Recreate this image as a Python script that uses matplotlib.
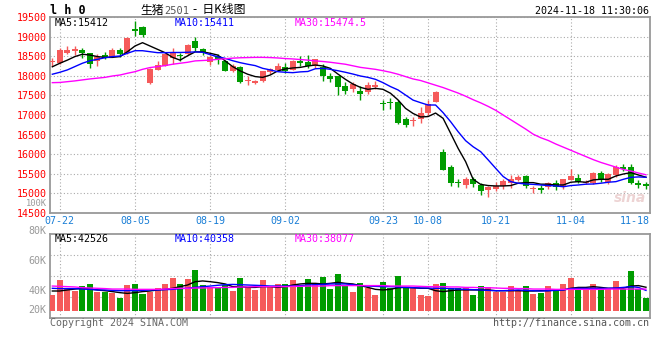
import matplotlib
matplotlib.use("Agg")
import matplotlib.pyplot as plt
import numpy as np

# ---- data (生猪2501 daily, 07-19 .. 11-18) ----
opens = [18350, 18330, 18590, 18630, 18660, 18580, 18370, 18520, 18490, 18650,
         18580, 19200, 19240, 17820, 18160, 18240, 18460, 18530, 18560, 18890,
         18690, 18340, 18500, 18390, 18130, 18230, 17880, 17820, 17860, 18100,
         18160, 18230, 18150, 18380, 18360, 18240, 18220, 17990, 17990, 17740,
         17660, 17620, 17580, 17710, 17310, 17340, 17320, 16900, 16840, 16890,
         17060, 17340, 16060, 15670, 15290, 15220, 15370, 15210, 15090, 15110,
         15190, 15260, 15330, 15450, 15110, 15130, 15160, 15270, 15170, 15340,
         15390, 15260, 15260, 15530, 15300, 15470, 15680, 15680, 15260, 15240]
highs = [18460, 18710, 18760, 18760, 18700, 18590, 18560, 18600, 18700, 18720,
         18980, 19400, 19270, 18190, 18370, 18560, 18710, 18590, 18820, 18990,
         18710, 18530, 18550, 18400, 18290, 18240, 18000, 17900, 18130, 18200,
         18320, 18320, 18400, 18500, 18520, 18440, 18300, 18070, 18000, 17850,
         17850, 17740, 17840, 17860, 17390, 17440, 17380, 16950, 16960, 17210,
         17370, 17600, 16130, 15730, 15360, 15430, 15430, 15260, 15190, 15290,
         15360, 15470, 15480, 15480, 15200, 15220, 15300, 15340, 15380, 15610,
         15490, 15330, 15540, 15570, 15510, 15720, 15750, 15750, 15330, 15290]
lows = [18260, 18300, 18560, 18540, 18450, 18210, 18260, 18420, 18470, 18480,
        18560, 19020, 19000, 17790, 18150, 18240, 18300, 18370, 18520, 18630,
        18540, 18280, 18290, 18120, 18090, 17820, 17770, 17780, 17850, 18050,
        18140, 18080, 18140, 18250, 18190, 18200, 17880, 17830, 17510, 17540,
        17580, 17380, 17540, 17660, 17130, 17150, 16780, 16690, 16720, 16800,
        17000, 17320, 15590, 15190, 15170, 15150, 15160, 14960, 14920, 15070,
        15120, 15140, 15310, 15140, 15010, 15010, 15110, 15090, 15100, 15330,
        15260, 15230, 15230, 15300, 15250, 15430, 15560, 15240, 15130, 15110]
closes = [18370, 18650, 18660, 18690, 18580, 18300, 18490, 18460, 18660, 18560,
          18970, 19150, 19040, 18180, 18270, 18550, 18610, 18500, 18790, 18700,
          18600, 18490, 18430, 18130, 18260, 17830, 17900, 17870, 18120, 18170,
          18260, 18130, 18390, 18330, 18240, 18420, 17990, 17920, 17720, 17620,
          17780, 17540, 17760, 17760, 17290, 17300, 16800, 16750, 16870, 17060,
          17280, 17580, 15600, 15260, 15270, 15370, 15250, 15070, 15160, 15200,
          15320, 15370, 15430, 15180, 15130, 15090, 15260, 15170, 15360, 15440,
          15300, 15300, 15510, 15360, 15490, 15680, 15620, 15270, 15220, 15200]

ma5 = [18230, 18320, 18400, 18490, 18550, 18530, 18490, 18470, 18470, 18490,
       18615, 18760, 18845, 18760, 18675, 18590, 18470, 18400, 18510, 18610,
       18610, 18575, 18530, 18380, 18235, 18125, 18040, 17980, 17960, 18020,
       18125, 18175, 18200, 18215, 18250, 18275, 18250, 18190, 18045, 17910,
       17790, 17705, 17655, 17680, 17655, 17555, 17385, 17170, 17040, 16950,
       16960, 17050, 16915, 16535, 16150, 15810, 15360, 15230, 15200, 15190,
       15190, 15200, 15260, 15275, 15275, 15235, 15235, 15215, 15215, 15285,
       15300, 15285, 15345, 15360, 15360, 15445, 15495, 15530, 15470, 15412]
ma10 = [18040, 18090, 18150, 18235, 18320, 18385, 18420, 18460, 18490, 18505,
        18575, 18640, 18640, 18615, 18590, 18590, 18595, 18595, 18600, 18610,
        18600, 18540, 18485, 18445, 18385, 18335, 18295, 18260, 18190, 18150,
        18105, 18090, 18080, 18100, 18110, 18180, 18190, 18165, 18130, 18090,
        18045, 17995, 17960, 17910, 17825, 17725, 17640, 17510, 17380, 17315,
        17255, 17255, 17060, 16830, 16575, 16345, 16190, 16065, 15855, 15640,
        15430, 15300, 15260, 15240, 15230, 15215, 15200, 15190, 15170, 15200,
        15215, 15235, 15240, 15260, 15285, 15300, 15360, 15410, 15420, 15411]
ma30 = [17825, 17830, 17850, 17870, 17895, 17920, 17940, 17960, 17995, 18020,
        18065, 18105, 18165, 18210, 18235, 18260, 18295, 18320, 18345, 18380,
        18390, 18400, 18420, 18435, 18450, 18460, 18465, 18470, 18470, 18465,
        18455, 18440, 18430, 18415, 18400, 18380, 18365, 18345, 18320, 18295,
        18255, 18215, 18190, 18165, 18130, 18090, 18040, 17980, 17920, 17880,
        17820, 17760, 17700, 17630, 17560, 17480, 17390, 17310, 17220, 17120,
        17000, 16880, 16760, 16640, 16510, 16420, 16350, 16260, 16180, 16100,
        16020, 15940, 15860, 15790, 15730, 15670, 15610, 15570, 15520, 15475]

# volume in thousands of lots
vol_k = [37.3, 47.3, 41.8, 40.2, 43.3, 44.7, 39.3, 39.3, 38.4, 35.3,
         44.0, 44.7, 38.0, 39.6, 41.8, 44.7, 48.4, 44.7, 47.8, 54.0,
         44.0, 42.9, 41.8, 44.0, 40.2, 48.4, 42.9, 40.7, 47.3, 42.9,
         44.7, 44.7, 47.3, 42.9, 47.8, 44.5, 49.6, 41.1, 51.3, 43.6,
         39.6, 45.6, 42.2, 37.3, 46.0, 41.8, 50.0, 42.9, 41.8, 37.3,
         36.7, 44.7, 45.6, 41.8, 41.8, 41.8, 37.3, 43.3, 42.9, 39.6,
         39.6, 43.3, 40.7, 43.3, 38.0, 38.9, 43.3, 40.7, 44.7, 48.4,
         41.1, 41.1, 44.7, 41.1, 41.1, 46.7, 41.1, 53.3, 41.1, 35.6]
vma5 = [40.0, 40.0, 40.7, 41.3, 41.8, 41.3, 40.7, 40.2, 39.6, 38.9,
        38.4, 38.9, 39.6, 40.0, 40.7, 41.1, 41.8, 42.9, 44.0, 46.2,
        46.7, 46.2, 45.6, 44.7, 42.9, 42.9, 42.4, 42.4, 42.9, 42.9,
        42.4, 42.9, 44.0, 44.7, 45.1, 45.1, 44.7, 45.1, 45.8, 45.1,
        44.7, 43.6, 42.4, 41.1, 40.7, 41.1, 42.2, 42.4, 42.2, 41.8,
        41.8, 40.2, 39.6, 40.2, 40.7, 40.7, 40.7, 40.7, 40.7, 40.2,
        40.2, 40.2, 40.2, 40.0, 40.0, 40.2, 40.2, 40.7, 40.7, 41.8,
        42.4, 42.4, 42.9, 42.4, 41.8, 41.8, 41.8, 43.3, 43.6, 42.5]
vma10 = [41.8, 41.6, 41.6, 41.6, 41.3, 41.1, 40.7, 40.7, 40.4, 40.2,
         40.2, 40.2, 40.4, 40.7, 40.7, 40.9, 41.1, 41.6, 41.8, 42.4,
         42.9, 43.3, 43.8, 44.2, 44.4, 44.2, 44.0, 43.8, 43.6, 43.3,
         43.3, 43.3, 43.3, 43.6, 44.0, 44.2, 44.4, 44.7, 44.7, 44.7,
         44.2, 43.6, 43.3, 43.1, 42.9, 42.9, 42.7, 42.4, 42.2, 42.0,
         42.0, 41.8, 41.8, 41.6, 41.3, 41.1, 40.9, 40.7, 40.4, 40.2,
         40.2, 40.4, 40.7, 40.4, 40.2, 40.0, 40.2, 40.4, 40.7, 41.6,
         41.8, 41.8, 41.8, 41.8, 41.8, 42.0, 42.4, 42.9, 42.4, 40.4]
vma30 = [43.3, 43.1, 42.9, 42.7, 42.2, 42.0, 41.8, 41.6, 41.3, 41.3,
         41.3, 41.1, 41.1, 41.1, 41.1, 41.3, 41.6, 41.8, 41.8, 42.0,
         42.0, 42.2, 42.2, 42.4, 42.4, 42.7, 42.7, 42.9, 42.9, 42.9,
         42.9, 42.9, 43.1, 43.1, 43.3, 43.3, 43.3, 43.6, 43.6, 43.6,
         43.6, 43.6, 43.6, 43.6, 43.6, 43.3, 43.3, 43.3, 43.3, 43.1,
         42.9, 42.9, 42.9, 42.7, 42.7, 42.4, 42.4, 42.2, 42.2, 42.0,
         41.8, 41.8, 41.6, 41.6, 41.3, 41.3, 41.3, 41.1, 41.1, 41.1,
         41.1, 41.1, 41.1, 41.1, 41.3, 41.3, 41.3, 41.3, 41.3, 41.3]

date_labels = ["07-22", "08-05", "08-19", "09-02", "09-23", "10-08", "10-21", "11-04", "11-18"]
date_index = [1, 11, 21, 31, 44, 50, 59, 69, 79]
price_ticks = [19500, 19000, 18500, 18000, 17500, 17000, 16500, 16000, 15500, 15000, 14500]
vol_labels = ["80K", "60K", "40K", "20K"]

RED = "#f55a5a"
GREEN = "#009c00"
GRID = "#aaaaaa"
MONO = "DejaVu Sans Mono"

W, H = 660, 360
def fx(x):
    return x / W
def fy(y):
    return 1 - y / H

fig = plt.figure(figsize=(6.6, 3.6), dpi=100)
ax = fig.add_axes([fx(50), fy(213), fx(599.5), 196 / H])
axv = fig.add_axes([fx(50), fy(318.3), fx(599.5), 84 / H])

idx = np.arange(len(closes))
o = np.array(opens)
c = np.array(closes)
cols = np.where(c >= o, RED, GREEN)

# candles
ax.vlines(idx, lows, highs, colors=cols, lw=1.0, zorder=3)
ax.bar(idx, np.maximum(np.abs(c - o), 25), bottom=np.minimum(o, c), width=0.8,
       color=cols, linewidth=0, zorder=3)
ax.plot(idx, ma5, color="black", lw=1.0, zorder=4)
ax.plot(idx, ma10, color="#0000ff", lw=1.0, zorder=4)
ax.plot(idx, ma30, color="#ff00ff", lw=1.0, zorder=4)

xlo, xhi = -0.31, 79.47
ax.set_xlim(xlo, xhi)
ax.set_ylim(14500, 19500)
ax.set_yticks(price_ticks)
ax.set_yticklabels([str(t) for t in price_ticks], color="red", family=MONO, fontsize=7.2)
ax.tick_params(axis="y", length=0, pad=2.5)
ax.set_xticks(date_index[:-1])
ax.set_xticklabels([])
ax.tick_params(axis="x", length=0)
ax.grid(True, color=GRID, linestyle=(0, (1, 2)), lw=0.8)
ax.set_axisbelow(True)

# volume
VOL_BASE = 26.9
axv.bar(idx, np.array(vol_k) - VOL_BASE, bottom=VOL_BASE, width=0.8, color=cols,
        linewidth=0, zorder=3)
axv.plot(idx, vma5, color="black", lw=1.0, zorder=4)
axv.plot(idx, vma10, color="#0000ff", lw=1.0, zorder=4)
axv.plot(idx, vma30, color="#ff00ff", lw=1.0, zorder=4)
vlo, vhi = 21.8, 77.8
axv.set_xlim(xlo, xhi)
axv.set_ylim(vlo, vhi)
axv.set_yticks(np.linspace(vlo, vhi, 5)[1:-1])
axv.set_yticklabels([])
axv.set_xticks(date_index[:-1])
axv.set_xticklabels([])
axv.tick_params(length=0)
axv.grid(True, color=GRID, linestyle=(0, (1, 2)), lw=0.8)
axv.set_axisbelow(True)

for a in (ax, axv):
    for s in a.spines.values():
        s.set_color("#999999")
        s.set_linewidth(1.3)

# date labels between the panels
for pos, lab in zip(date_index, date_labels):
    ha = "right" if pos == date_index[-1] else "center"
    xp = xhi if pos == date_index[-1] else pos
    ax.text(xp, -0.041, lab, transform=ax.get_xaxis_transform(), ha=ha, va="center",
            color="#1a7ed6", family=MONO, fontsize=7.2, clip_on=False)

# volume axis labels
for lab, yp in zip(vol_labels, [231, 261, 291, 310]):
    fig.text(fx(46.5), fy(yp), lab, ha="right", va="center", color="#999999",
             family=MONO, fontsize=7.2)
fig.text(fx(46.5), fy(203.5), "100K", ha="right", va="center", color="#999999",
         family=MONO, fontsize=6.3)

# MA captions
for txt, col, xp in [("MA5:15412", "black", 55), ("MA10:15411", "#0000ff", 175),
                     ("MA30:15474.5", "#ff00ff", 295)]:
    fig.text(fx(xp), fy(23), txt, ha="left", va="center", color=col, family=MONO, fontsize=7.2)
for txt, col, xp in [("MA5:42526", "black", 55), ("MA10:40358", "#0000ff", 175),
                     ("MA30:38077", "#ff00ff", 295)]:
    fig.text(fx(xp), fy(238.5), txt, ha="left", va="center", color=col, family=MONO, fontsize=7.2)

# header
fig.text(fx(50), fy(10.5), "l h 0", ha="left", va="center", color="black",
         family=MONO, fontsize=8.5, fontweight="bold")
fig.text(fx(140), fy(10), "生猪", ha="left", va="center", color="black",
         family=["Noto Sans CJK SC", "DejaVu Sans"], fontsize=8.5)
fig.text(fx(164), fy(10.5), "2501", ha="left", va="center", color="#555555",
         family=MONO, fontsize=7.5)
fig.text(fx(193), fy(10), "-  日K线图", ha="left", va="center", color="black",
         family=["Noto Sans CJK SC", "DejaVu Sans"], fontsize=8.5)
fig.text(fx(649), fy(11), "2024-11-18 11:30:06", ha="right", va="center", color="black",
         family=MONO, fontsize=7.2)

# footer
fig.text(fx(50), fy(323.5), "Copyright 2024 SINA.COM", ha="left", va="center",
         color="#666666", family=MONO, fontsize=7.2)
fig.text(fx(649), fy(323.5), "http://finance.sina.com.cn", ha="right", va="center",
         color="#555555", family=MONO, fontsize=7.2)

# faint watermark
fig.text(fx(630), fy(198), "sina", ha="center", va="center", color="#e9c9c9",
         fontsize=10, fontweight="bold", style="italic", alpha=0.8)

fig.savefig("out.png", dpi=100)
